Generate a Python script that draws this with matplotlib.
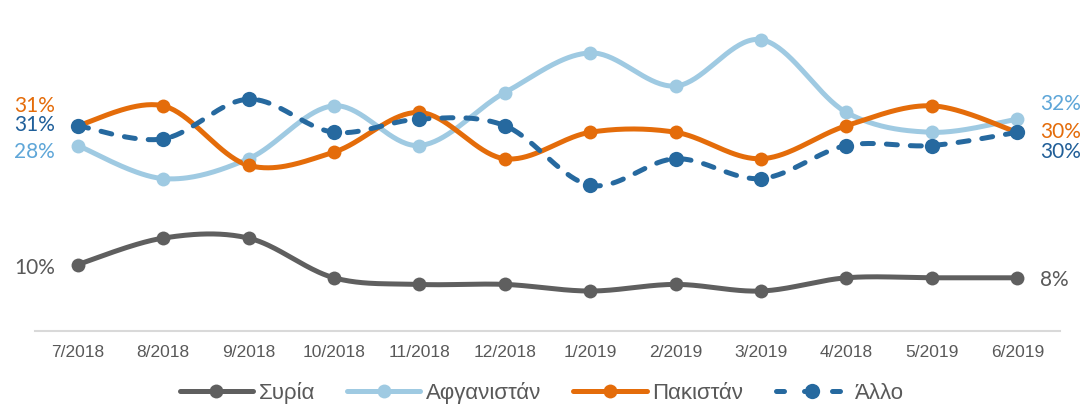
import numpy as np
import matplotlib
matplotlib.use("Agg")
import matplotlib.pyplot as plt
from matplotlib.lines import Line2D

categories = ["7/2018", "8/2018", "9/2018", "10/2018", "11/2018", "12/2018",
              "1/2019", "2/2019", "3/2019", "4/2018", "5/2019", "6/2019"]
series_names = ["Συρία", "Αφγανιστάν", "Πακιστάν", "Άλλο"]
syria = [10, 14, 14, 8, 7, 7, 6, 7, 6, 8, 8, 8]
afghanistan = [28, 23, 26, 34, 28, 36, 42, 37, 44, 33, 30, 32]
pakistan = [31, 34, 25, 27, 33, 26, 30, 30, 26, 31, 34, 30]
other = [31, 29, 35, 30, 32, 31, 22, 26, 23, 28, 28, 30]

colors = ["#5f5f5f", "#9fcae2", "#e46c0a", "#26699f"]
text_colors = ["#595959", "#5ea6d8", "#e46c0a", "#1f5f9a"]


def smooth(y, n=40):
    pts = np.column_stack([np.arange(len(y), dtype=float), np.asarray(y, float)])
    P = np.vstack([pts[0], pts, pts[-1]])
    out = []
    t = np.linspace(0, 1, n)[:, None]
    for i in range(1, len(P) - 2):
        p0, p1, p2, p3 = P[i - 1], P[i], P[i + 1], P[i + 2]
        c1 = p1 + (p2 - p0) / 6
        c2 = p2 - (p3 - p1) / 6
        b = (1 - t) ** 3 * p1 + 3 * (1 - t) ** 2 * t * c1 + 3 * (1 - t) * t ** 2 * c2 + t ** 3 * p2
        out.append(b)
    return np.vstack(out)


fig = plt.figure(figsize=(10.83, 4.07), dpi=100)
ax = fig.add_axes([35 / 1083, (407 - 330.7) / 407, 1025 / 1083, 330.7 / 407])
ax.set_xlim(-0.5, len(categories) - 0.5)
ax.set_ylim(0, 50)

data = [syria, afghanistan, pakistan, other]
styles = ["-", "-", "-", (0, (2.2, 2.6))]
msizes = [10, 10, 10, 11]
handles = []
for vals, name, c, ls, ms in zip(data, series_names, colors, styles, msizes):
    curve = smooth(vals)
    ax.plot(curve[:, 0], curve[:, 1], color=c, lw=3.6, linestyle=ls,
            solid_capstyle="round", dash_capstyle="round", zorder=2)
    ax.plot(np.arange(len(vals)), vals, linestyle="none", marker="o",
            ms=ms, color=c, markeredgewidth=0, zorder=3)
    handles.append(Line2D([], [], color=c, lw=3.6, linestyle=(0, (1.6, 4.0)) if ls != "-" else ls,
                          marker="o", ms=ms, markeredgewidth=0, dash_capstyle="round",
                          solid_capstyle="round"))

# start / end labels
start_offsets = [(-3), (-6.5), (20), (1)]
end_offsets = [(-2), (15), (0), (-20)]
lab_font = "Lato"
last = len(categories) - 1
for vals, tc, so, eo in zip(data, text_colors, start_offsets, end_offsets):
    ax.annotate(f"{vals[0]}%", (0, vals[0]), xytext=(-23, so), textcoords="offset pixels",
                ha="right", va="center", color=tc, fontsize=15, family=lab_font)
    ax.annotate(f"{vals[-1]}%", (last, vals[-1]), xytext=(23, eo), textcoords="offset pixels",
                ha="left", va="center", color=tc, fontsize=15, family=lab_font)

for s in ["left", "right", "top"]:
    ax.spines[s].set_visible(False)
ax.spines["bottom"].set_color("#d9d9d9")
ax.spines["bottom"].set_linewidth(1.5)
ax.set_yticks([])
ax.set_xticks(np.arange(len(categories)))
ax.set_xticklabels(categories, fontsize=12.5, color="#595959", family="Liberation Sans")
ax.tick_params(axis="x", length=0, pad=10)

leg = fig.legend(handles, series_names, loc="center", bbox_to_anchor=(0.5, 14 / 407),
                 ncol=4, frameon=False, handlelength=3.3, handletextpad=0.25,
                 columnspacing=1.45, numpoints=1,
                 prop={"family": "Liberation Sans", "size": 16})
for t in leg.get_texts():
    t.set_color("#595959")

fig.savefig("out.png", dpi=100)
